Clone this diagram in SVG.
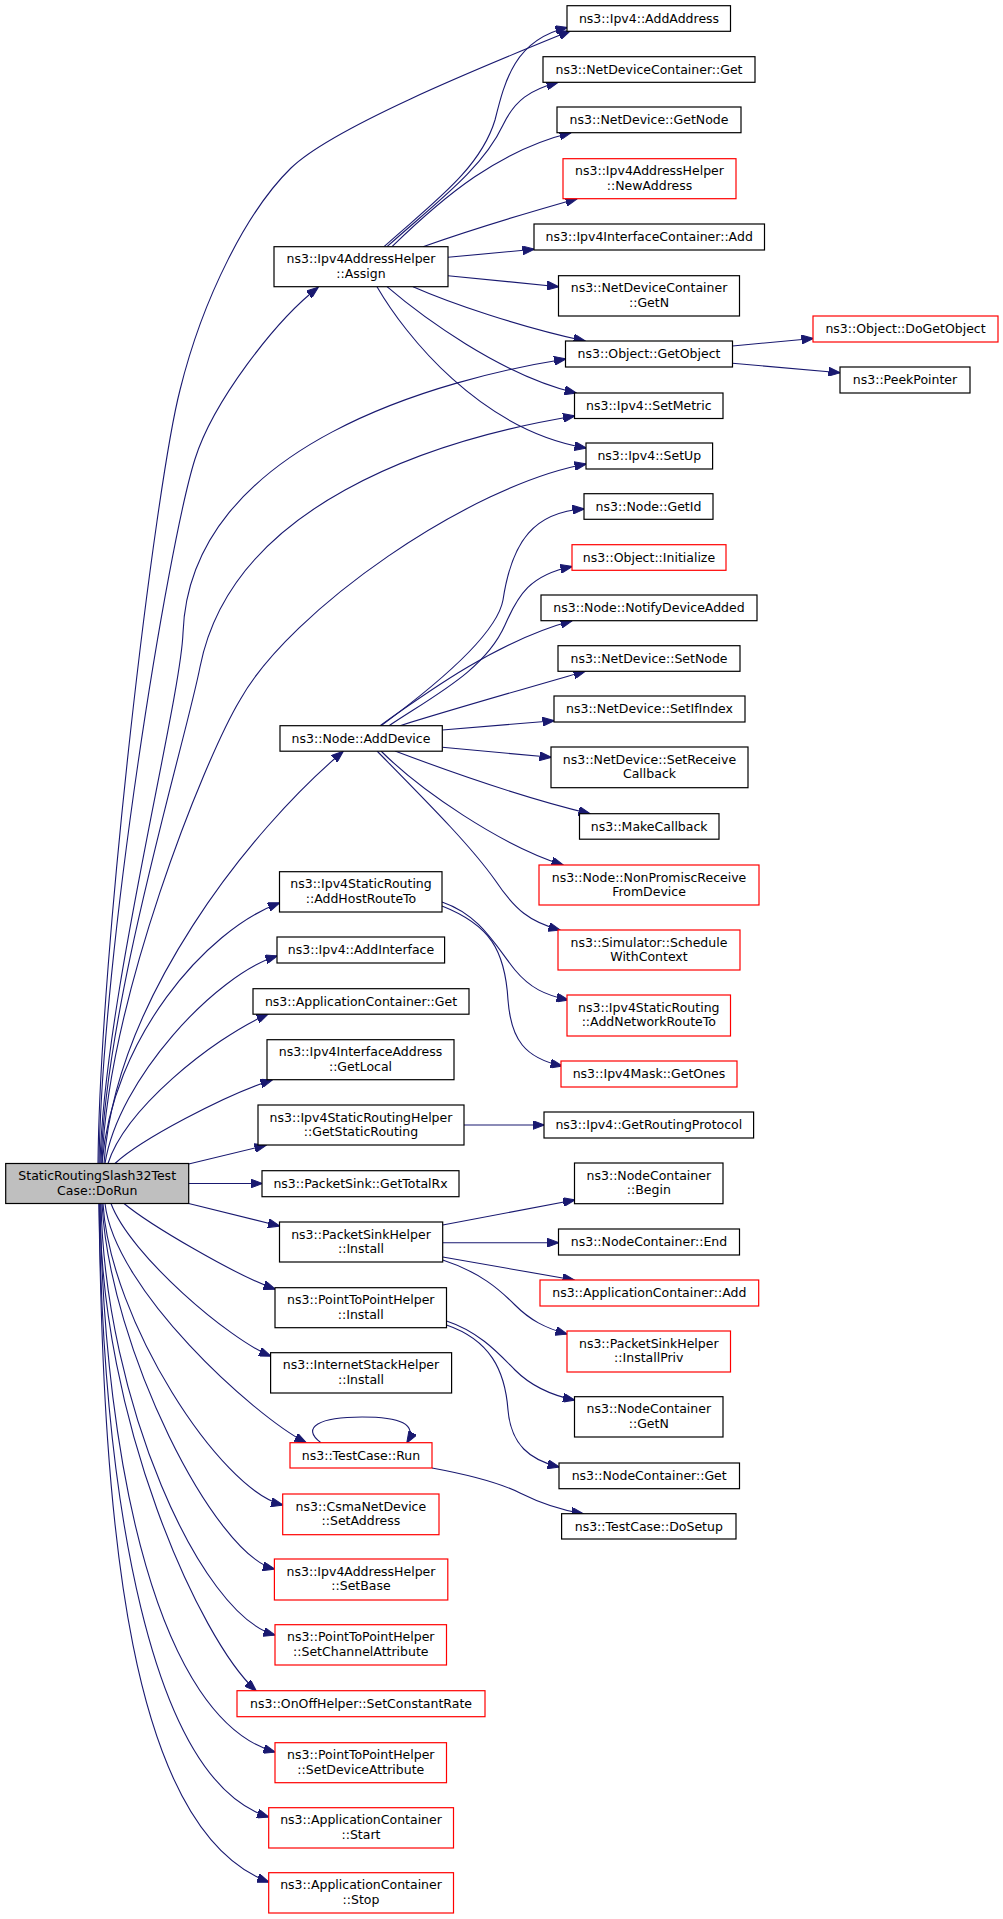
<svg xmlns="http://www.w3.org/2000/svg" width="1003" height="1919" viewBox="0 0 1003 1919">
<style>
.n rect{fill:#fff;stroke:#000;stroke-width:1.2}
.n.r rect{stroke:#f00}
.n.m rect{fill:#bfbfbf}
text{font-family:"DejaVu Sans",sans-serif;font-size:12.5px;text-anchor:middle;fill:#000}
#edges path{fill:none;stroke:#191970;stroke-width:1.1;marker-end:url(#a)}
</style>
<defs>
<marker id="a" viewBox="0 0 12 9" refX="11.5" refY="4.5" markerWidth="12" markerHeight="9" markerUnits="userSpaceOnUse" orient="auto"><path d="M0,0 L12,4.5 L0,9 z" fill="#191970" stroke="#191970" stroke-width="1"/></marker>
</defs>
<rect width="1003" height="1919" fill="#fff"/>
<g id="edges">
<path d="M98,1163.5 C100,950 155,487 180,390 C203,297 247.8,210 291,168 C334,126 495.6,61.4 570,31"/>
<path d="M99,1163.5 C102,950 168,544.5 195,459 C213,402 275,321 318,287.5"/>
<path d="M100,1163.5 C104,1000 180.4,703 183,633 C190,443 446.7,378 565.5,359"/>
<path d="M101,1163.5 C106,1000 187,736 200,667 C232,505.6 430,440 574.5,416"/>
<path d="M102,1163.5 C108,1000 204,760 240,700 C290,610 470,485 586,464"/>
<path d="M104,1163.5 C115,1000 250,830 343,751.5"/>
<path d="M102,1163.5 C112,1040 205,930 279.5,903"/>
<path d="M105,1163.5 C118,1080 215,975 277,956"/>
<path d="M108,1163.5 C125,1110 210,1040 268,1014"/>
<path d="M115,1163.5 C140,1140 225,1095 272,1080"/>
<path d="M188.7,1164 L266,1145.3"/>
<path d="M188.7,1183.5 L262,1183.5"/>
<path d="M188.7,1203.5 L279.5,1226"/>
<path d="M124,1203.5 C150,1225 235,1275 275,1289"/>
<path d="M111,1203.5 C130,1255 230,1340 270.6,1356"/>
<path d="M105,1203.5 C115,1290 253,1415 306,1442.7"/>
<path d="M103,1203.5 C110,1320 220,1490 282.7,1505"/>
<path d="M102,1203.5 C110,1350 215,1555 274.4,1569"/>
<path d="M101,1203.5 C105,1400 200,1615 275,1635"/>
<path d="M100,1203.5 C100,1420 200,1640 256,1690.7"/>
<path d="M100,1203.5 C104,1470 160,1720 275,1752"/>
<path d="M99,1203.5 C103,1500 150,1780 268.7,1817"/>
<path d="M99,1203.5 C103,1528 129,1830 268.7,1882"/>
<path d="M384,246.7 C430,205 480,170 495,120 C505,80 515,40 567,27.5"/>
<path d="M387,246.7 C433,205 482,170 503,125 C515,100 530,90 558,82.3"/>
<path d="M392,246.7 C445,195 500,150 571,132.7"/>
<path d="M423,246.7 C470,230 530,212 577,198.7"/>
<path d="M448,257.3 L534,249.3"/>
<path d="M448,275.7 L558.5,286.7"/>
<path d="M413,286.7 C450,303 520,327 585,341"/>
<path d="M387,286.7 C420,315 500,375 576,393"/>
<path d="M377,286.7 C405,335 480,430 586,448"/>
<path d="M732.5,346 L813,338.5"/>
<path d="M732.5,363.3 L840,372.7"/>
<path d="M381,725.7 C420,697 496,639 503,600 C512,540 535,512 584,509"/>
<path d="M389,725.7 C435,695 485,670 505,625 C518,595 530,575 572,566.5"/>
<path d="M380,725.7 C430,690 500,640 572,620.7"/>
<path d="M400,725.7 C450,710 520,690 585,671.3"/>
<path d="M442.3,730 L554,720.7"/>
<path d="M442.3,747.3 L551,757.3"/>
<path d="M395,751 C440,768 520,797 590,813.7"/>
<path d="M381,751 C420,790 500,845 563,865"/>
<path d="M377,751 C430,805 470,845 495,880 C515,910 530,922 560,930"/>
<path d="M442,902 C480,915 495,945 515,970 C530,988 545,995 568,1000"/>
<path d="M442,906 C490,925 505,950 508,1000 C511,1040 525,1058 562,1066"/>
<path d="M464,1125 L544,1125"/>
<path d="M442.7,1225 L574.5,1200"/>
<path d="M442.7,1242.7 L558.5,1242.7"/>
<path d="M442.7,1257 L574,1280"/>
<path d="M442.7,1260 C480,1272 500,1290 515,1305 C530,1320 545,1328 567,1334"/>
<path d="M446.5,1321 C480,1332 500,1355 515,1370 C530,1385 550,1395 574.5,1400"/>
<path d="M446.5,1325 C490,1340 505,1370 508,1410 C511,1445 530,1460 559,1467"/>
<path d="M321,1442.7 C300,1427 320,1417 362,1417 C400,1417 418,1424 407,1442.7"/>
<path d="M432,1468 C470,1475 500,1483 520,1493 C540,1503 560,1510 583,1513.7"/>
</g>
<g id="n_dorun" class="n m"><rect x="5.7" y="1163.5" width="183" height="40"/><text x="97.2" y="1180">StaticRoutingSlash32Test</text><text x="97.2" y="1194.5">Case::DoRun</text></g>
<g id="n_assign" class="n"><rect x="274" y="246.7" width="174" height="40"/><text x="361" y="263.2">ns3::Ipv4AddressHelper</text><text x="361" y="277.5">::Assign</text></g>
<g id="n_adddevice" class="n"><rect x="280" y="725.7" width="162.3" height="25.5"/><text x="361" y="742.7">ns3::Node::AddDevice</text></g>
<g id="n_addhost" class="n"><rect x="279.5" y="871.7" width="162.5" height="40.3"/><text x="361" y="888.2">ns3::Ipv4StaticRouting</text><text x="361" y="902.5">::AddHostRouteTo</text></g>
<g id="n_addiface" class="n"><rect x="277" y="937" width="167.6" height="26"/><text x="361" y="954.2">ns3::Ipv4::AddInterface</text></g>
<g id="n_appget" class="n"><rect x="253" y="988.7" width="216" height="25.5"/><text x="361" y="1005.7">ns3::ApplicationContainer::Get</text></g>
<g id="n_getlocal" class="n"><rect x="267" y="1039.7" width="187" height="40"/><text x="360.5" y="1056.2">ns3::Ipv4InterfaceAddress</text><text x="360.5" y="1070.5">::GetLocal</text></g>
<g id="n_getsr" class="n"><rect x="258" y="1105" width="206" height="40"/><text x="361" y="1121.5">ns3::Ipv4StaticRoutingHelper</text><text x="361" y="1135.8">::GetStaticRouting</text></g>
<g id="n_gettotalrx" class="n"><rect x="262" y="1170.7" width="197" height="26"/><text x="360.5" y="1187.9">ns3::PacketSink::GetTotalRx</text></g>
<g id="n_pshinstall" class="n"><rect x="279.5" y="1222" width="163.2" height="40"/><text x="361" y="1238.5">ns3::PacketSinkHelper</text><text x="361" y="1252.8">::Install</text></g>
<g id="n_p2pinstall" class="n"><rect x="275" y="1287.7" width="171.5" height="40"/><text x="360.8" y="1304.2">ns3::PointToPointHelper</text><text x="360.8" y="1318.5">::Install</text></g>
<g id="n_isinstall" class="n"><rect x="270.6" y="1352.7" width="181" height="40.3"/><text x="361" y="1369.2">ns3::InternetStackHelper</text><text x="361" y="1383.5">::Install</text></g>
<g id="n_tcrun" class="n r"><rect x="290" y="1442.7" width="142" height="25.3"/><text x="361" y="1459.7">ns3::TestCase::Run</text></g>
<g id="n_csma" class="n r"><rect x="282.7" y="1494" width="156.3" height="40.7"/><text x="360.9" y="1510.5">ns3::CsmaNetDevice</text><text x="360.9" y="1524.8">::SetAddress</text></g>
<g id="n_setbase" class="n r"><rect x="274.4" y="1559" width="173.4" height="41"/><text x="361" y="1575.5">ns3::Ipv4AddressHelper</text><text x="361" y="1589.8">::SetBase</text></g>
<g id="n_setchan" class="n r"><rect x="275" y="1624.7" width="171.5" height="40.3"/><text x="360.8" y="1641.2">ns3::PointToPointHelper</text><text x="360.8" y="1655.5">::SetChannelAttribute</text></g>
<g id="n_onoff" class="n r"><rect x="237" y="1690.7" width="248" height="26"/><text x="361" y="1707.9">ns3::OnOffHelper::SetConstantRate</text></g>
<g id="n_setdev" class="n r"><rect x="275" y="1742.7" width="171.5" height="40"/><text x="360.8" y="1759.2">ns3::PointToPointHelper</text><text x="360.8" y="1773.5">::SetDeviceAttribute</text></g>
<g id="n_start" class="n r"><rect x="268.7" y="1807.7" width="184.8" height="40.3"/><text x="361" y="1824.2">ns3::ApplicationContainer</text><text x="361" y="1838.5">::Start</text></g>
<g id="n_stop" class="n r"><rect x="268.7" y="1872.7" width="184.8" height="40.3"/><text x="361" y="1889.2">ns3::ApplicationContainer</text><text x="361" y="1903.5">::Stop</text></g>
<g id="n_addaddr" class="n"><rect x="567" y="5.7" width="163.5" height="25.6"/><text x="649" y="22.7">ns3::Ipv4::AddAddress</text></g>
<g id="n_ndcget" class="n"><rect x="543" y="56.7" width="212" height="25.6"/><text x="649" y="73.7">ns3::NetDeviceContainer::Get</text></g>
<g id="n_getnode" class="n"><rect x="557" y="107" width="184" height="25.7"/><text x="649" y="124">ns3::NetDevice::GetNode</text></g>
<g id="n_newaddr" class="n r"><rect x="563" y="158.7" width="173" height="40"/><text x="649.5" y="175.2">ns3::Ipv4AddressHelper</text><text x="649.5" y="189.5">::NewAddress</text></g>
<g id="n_i4icadd" class="n"><rect x="534" y="224" width="230.5" height="26"/><text x="649.2" y="241.2">ns3::Ipv4InterfaceContainer::Add</text></g>
<g id="n_ndcgetn" class="n"><rect x="558.5" y="275.7" width="181" height="40.3"/><text x="649" y="292.2">ns3::NetDeviceContainer</text><text x="649" y="306.5">::GetN</text></g>
<g id="n_getobj" class="n"><rect x="565.5" y="341" width="167" height="26"/><text x="649" y="358.2">ns3::Object::GetObject</text></g>
<g id="n_dogetobj" class="n r"><rect x="813" y="316" width="185" height="26"/><text x="905.5" y="333.2">ns3::Object::DoGetObject</text></g>
<g id="n_peek" class="n"><rect x="840" y="367" width="130" height="26"/><text x="905" y="384.2">ns3::PeekPointer</text></g>
<g id="n_setmetric" class="n"><rect x="574.5" y="393" width="148.5" height="25.5"/><text x="648.8" y="410">ns3::Ipv4::SetMetric</text></g>
<g id="n_setup" class="n"><rect x="586" y="443" width="126.6" height="26"/><text x="649.3" y="460.2">ns3::Ipv4::SetUp</text></g>
<g id="n_getid" class="n"><rect x="584" y="493.7" width="129" height="25.6"/><text x="648.5" y="510.7">ns3::Node::GetId</text></g>
<g id="n_init" class="n r"><rect x="572" y="544.7" width="154" height="25.6"/><text x="649" y="561.7">ns3::Object::Initialize</text></g>
<g id="n_notify" class="n"><rect x="541" y="595" width="216" height="25.7"/><text x="649" y="612">ns3::Node::NotifyDeviceAdded</text></g>
<g id="n_setnode" class="n"><rect x="558" y="645.7" width="182" height="25.6"/><text x="649" y="662.7">ns3::NetDevice::SetNode</text></g>
<g id="n_setifindex" class="n"><rect x="554" y="696" width="191" height="26"/><text x="649.5" y="713.2">ns3::NetDevice::SetIfIndex</text></g>
<g id="n_setrecv" class="n"><rect x="551" y="747" width="197" height="40.7"/><text x="649.5" y="763.5">ns3::NetDevice::SetReceive</text><text x="649.5" y="777.8">Callback</text></g>
<g id="n_makecb" class="n"><rect x="579.5" y="813.7" width="139.5" height="25.5"/><text x="649.2" y="830.7">ns3::MakeCallback</text></g>
<g id="n_nonpromisc" class="n r"><rect x="539" y="865" width="220" height="40"/><text x="649" y="881.5">ns3::Node::NonPromiscReceive</text><text x="649" y="895.8">FromDevice</text></g>
<g id="n_sched" class="n r"><rect x="558" y="930" width="182" height="40"/><text x="649" y="946.5">ns3::Simulator::Schedule</text><text x="649" y="960.8">WithContext</text></g>
<g id="n_addnet" class="n r"><rect x="567" y="995" width="163.5" height="41"/><text x="648.8" y="1011.5">ns3::Ipv4StaticRouting</text><text x="648.8" y="1025.8">::AddNetworkRouteTo</text></g>
<g id="n_getones" class="n r"><rect x="561" y="1061" width="176" height="26"/><text x="649" y="1078.2">ns3::Ipv4Mask::GetOnes</text></g>
<g id="n_getrp" class="n"><rect x="544" y="1112" width="209.6" height="26"/><text x="648.8" y="1129.2">ns3::Ipv4::GetRoutingProtocol</text></g>
<g id="n_begin" class="n"><rect x="574.5" y="1163" width="148.5" height="40.7"/><text x="648.8" y="1179.5">ns3::NodeContainer</text><text x="648.8" y="1193.8">::Begin</text></g>
<g id="n_end" class="n"><rect x="558.5" y="1229" width="181" height="26"/><text x="649" y="1246.2">ns3::NodeContainer::End</text></g>
<g id="n_appadd" class="n r"><rect x="540" y="1280" width="218.7" height="26"/><text x="649.3" y="1297.2">ns3::ApplicationContainer::Add</text></g>
<g id="n_installpriv" class="n r"><rect x="567" y="1331" width="163.5" height="41"/><text x="648.8" y="1347.5">ns3::PacketSinkHelper</text><text x="648.8" y="1361.8">::InstallPriv</text></g>
<g id="n_ncgetn" class="n"><rect x="574.5" y="1396.7" width="148.5" height="40.3"/><text x="648.8" y="1413.2">ns3::NodeContainer</text><text x="648.8" y="1427.5">::GetN</text></g>
<g id="n_ncget" class="n"><rect x="559" y="1463" width="180.5" height="25.7"/><text x="649.2" y="1480">ns3::NodeContainer::Get</text></g>
<g id="n_dosetup" class="n"><rect x="561.6" y="1513.7" width="174.4" height="25.3"/><text x="648.8" y="1530.7">ns3::TestCase::DoSetup</text></g>
</svg>
